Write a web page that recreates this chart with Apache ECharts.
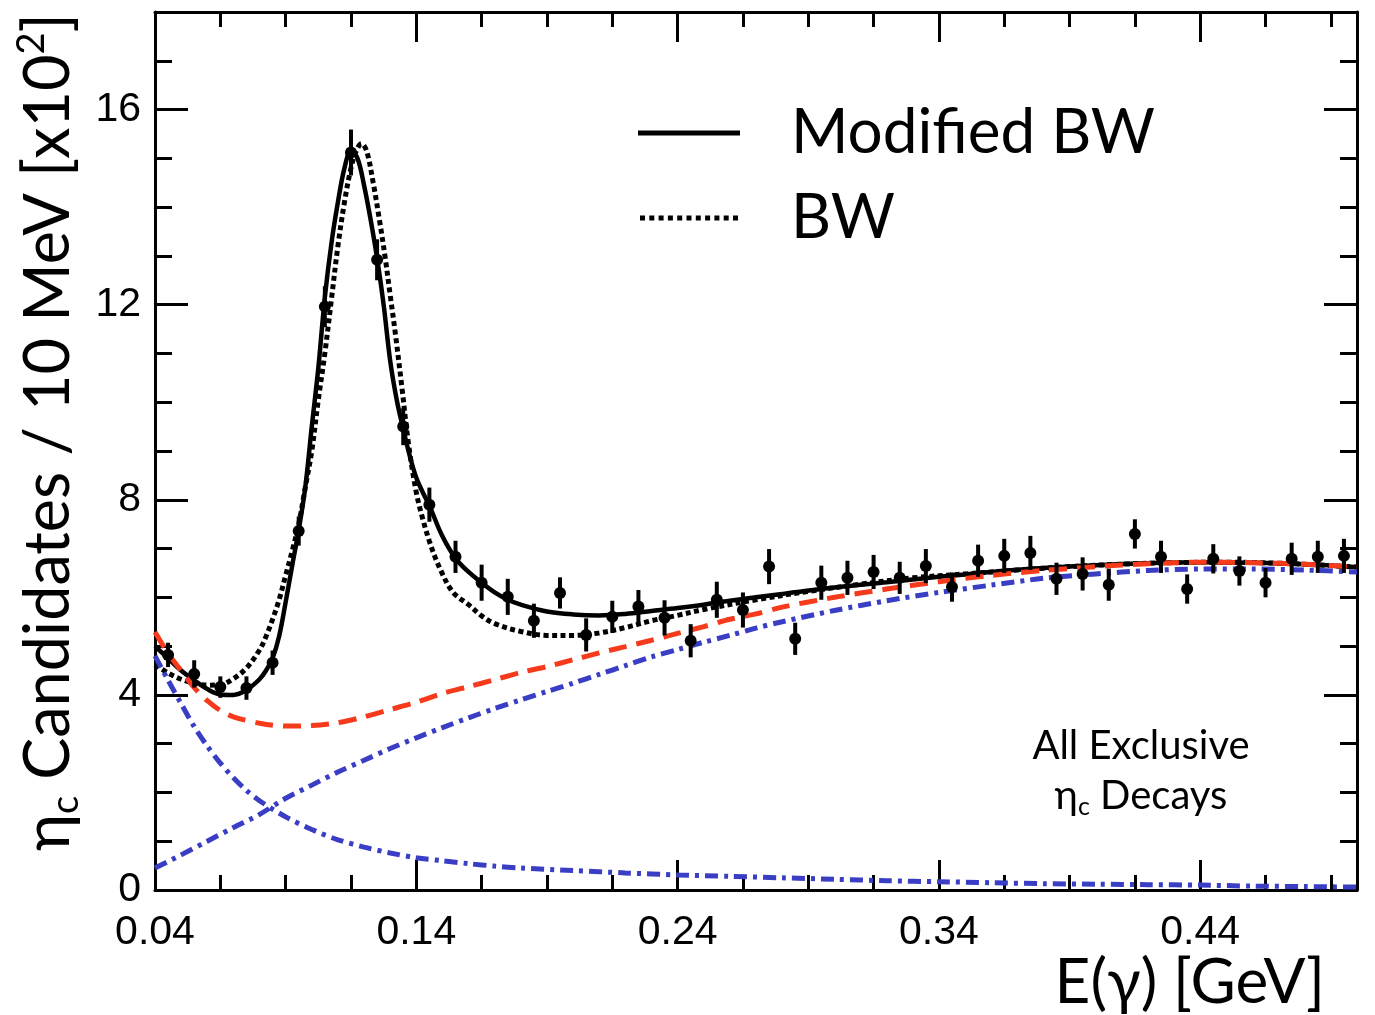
<!DOCTYPE html>
<html>
<head>
<meta charset="utf-8">
<script src="https://cdn.jsdelivr.net/npm/echarts@6/dist/echarts.min.js"></script>
<style>html,body{margin:0;padding:0;background:#fff}#c{width:1375px;height:1015px}</style>
</head>
<body>
<div id="c"></div>
<script>
// ---------- data ----------
const binCenters = [0.045,0.055,0.065,0.075,0.085,0.095,0.105,0.115,0.125,0.135,
  0.145,0.155,0.165,0.175,0.185,0.195,0.205,0.215,0.225,0.235,
  0.245,0.255,0.265,0.275,0.285,0.295,0.305,0.315,0.325,0.335,
  0.345,0.355,0.365,0.375,0.385,0.395,0.405,0.415,0.425,0.435,
  0.445,0.455,0.465,0.475,0.485,0.495];
const counts = [4.82,4.43,4.16,4.14,4.66,7.36,11.96,15.12,12.92,9.50,
  7.90,6.83,6.30,6.01,5.52,6.09,5.23,5.60,5.81,5.58,
  5.11,5.95,5.74,6.63,5.15,6.30,6.40,6.52,6.40,6.64,
  6.21,6.75,6.85,6.91,6.38,6.48,6.26,7.30,6.83,6.17,
  6.79,6.54,6.30,6.79,6.83,6.85];
const errors = [0.25,0.28,0.22,0.24,0.25,0.30,0.42,0.47,0.42,0.38,
  0.35,0.33,0.37,0.37,0.35,0.32,0.34,0.33,0.34,0.36,
  0.34,0.37,0.36,0.36,0.33,0.35,0.35,0.35,0.33,0.35,
  0.30,0.33,0.35,0.35,0.33,0.34,0.33,0.30,0.33,0.30,
  0.30,0.30,0.30,0.33,0.33,0.35];

const modifiedBW = [[0.040,5.00],[0.045,4.75],[0.050,4.50],[0.055,4.30],[0.060,4.12],[0.065,4.01],
  [0.070,4.00],[0.075,4.10],[0.080,4.32],[0.0825,4.50],[0.085,4.75],[0.0875,5.20],[0.090,5.90],
  [0.0925,6.65],[0.095,7.38],[0.0975,8.25],[0.100,9.50],[0.1025,10.70],[0.105,12.15],[0.1075,13.25],
  [0.110,14.10],[0.1125,14.80],[0.115,15.15],[0.1175,15.00],[0.120,14.45],[0.1225,13.75],
  [0.125,12.95],[0.1275,12.00],[0.130,10.85],[0.1325,10.05],[0.135,9.45],[0.1375,8.90],
  [0.140,8.45],[0.1425,8.15],[0.145,7.88],[0.150,7.25],[0.155,6.80],[0.160,6.52],[0.165,6.30],
  [0.170,6.10],[0.175,5.95],[0.180,5.85],[0.190,5.71],[0.200,5.65],[0.210,5.63],[0.220,5.66],
  [0.230,5.72],[0.240,5.78],[0.250,5.85],[0.260,5.93],[0.280,6.07],[0.300,6.20],[0.320,6.31],
  [0.340,6.42],[0.360,6.52],[0.380,6.60],[0.400,6.66],[0.420,6.70],[0.440,6.72],[0.460,6.71],
  [0.480,6.68],[0.500,6.62]];
const plainBW = [[0.040,4.62],[0.045,4.45],[0.050,4.32],[0.055,4.24],[0.060,4.20],[0.065,4.21],
  [0.070,4.33],[0.075,4.55],[0.080,4.92],[0.0825,5.20],[0.085,5.55],[0.0875,5.95],[0.090,6.45],
  [0.0925,6.95],[0.095,7.50],[0.0975,8.25],[0.100,9.00],[0.1025,10.05],[0.105,11.00],[0.1075,12.10],
  [0.110,13.20],[0.1125,14.10],[0.115,14.80],[0.117,15.15],[0.119,15.30],[0.121,15.15],
  [0.1235,14.50],[0.126,13.70],[0.128,13.00],[0.130,12.20],[0.132,11.40],[0.1345,10.30],
  [0.137,9.15],[0.140,8.15],[0.1425,7.60],[0.145,7.15],[0.1475,6.78],[0.150,6.48],[0.1525,6.22],
  [0.155,6.05],[0.160,5.85],[0.165,5.62],[0.170,5.46],[0.180,5.30],[0.190,5.22],[0.200,5.22],
  [0.210,5.27],[0.220,5.38],[0.230,5.52],[0.240,5.63],[0.250,5.75],[0.270,5.95],[0.290,6.12],
  [0.310,6.27],[0.330,6.40],[0.350,6.48],[0.370,6.56],[0.390,6.63],[0.410,6.68],[0.430,6.71],
  [0.450,6.72],[0.470,6.70],[0.490,6.65],[0.500,6.62]];
const totalBackground = [[0.040,5.29],[0.045,4.85],[0.050,4.50],[0.055,4.15],[0.060,3.88],[0.065,3.68],
  [0.070,3.55],[0.080,3.42],[0.090,3.36],[0.100,3.37],[0.110,3.43],[0.120,3.55],[0.130,3.70],
  [0.140,3.85],[0.150,4.03],[0.160,4.17],[0.170,4.31],[0.180,4.46],[0.190,4.58],[0.200,4.72],
  [0.210,4.86],[0.220,4.99],[0.230,5.12],[0.240,5.26],[0.250,5.40],[0.260,5.55],[0.270,5.66],
  [0.280,5.80],[0.300,6.00],[0.320,6.17],[0.340,6.32],[0.360,6.45],[0.380,6.55],[0.400,6.63],
  [0.420,6.69],[0.440,6.72],[0.460,6.71],[0.480,6.68],[0.500,6.62]];
const risingBackground = [[0.040,0.45],[0.050,0.72],[0.060,1.00],[0.070,1.28],[0.080,1.55],[0.090,1.88],
  [0.100,2.15],[0.110,2.42],[0.120,2.66],[0.130,2.90],[0.140,3.12],[0.150,3.33],[0.160,3.53],
  [0.170,3.72],[0.180,3.90],[0.190,4.07],[0.200,4.24],[0.210,4.42],[0.220,4.60],[0.230,4.78],
  [0.240,4.93],[0.250,5.08],[0.260,5.22],[0.270,5.37],[0.280,5.50],[0.300,5.73],[0.320,5.93],
  [0.340,6.10],[0.360,6.25],[0.380,6.39],[0.400,6.48],[0.420,6.55],[0.440,6.58],[0.460,6.58],
  [0.480,6.56],[0.500,6.52]];
const fallingBackground = [[0.040,4.80],[0.045,4.30],[0.050,3.82],[0.055,3.35],[0.060,2.95],[0.065,2.60],
  [0.070,2.30],[0.075,2.04],[0.080,1.83],[0.090,1.50],[0.100,1.24],[0.110,1.03],[0.120,0.88],
  [0.130,0.76],[0.140,0.66],[0.150,0.60],[0.160,0.54],[0.170,0.49],[0.180,0.45],[0.200,0.40],
  [0.220,0.35],[0.240,0.31],[0.260,0.28],[0.280,0.25],[0.300,0.22],[0.320,0.19],[0.340,0.17],
  [0.360,0.15],[0.380,0.13],[0.400,0.12],[0.420,0.11],[0.440,0.10],[0.460,0.08],[0.480,0.07],
  [0.500,0.06]];

const xMajorTicks = [0.04,0.14,0.24,0.34,0.44];
const xMinorTicks = [0.065,0.09,0.115,0.165,0.19,0.215,0.265,0.29,0.315,0.365,0.39,0.415,0.465,0.49];
const yMajorTicks = [0,4,8,12,16];
const yMinorTicks = [1,2,3,5,6,7,9,10,11,13,14,15,17];

// ---------- chart ----------
const chart = echarts.init(document.getElementById('c'));
const BLACK = '#000';
const RED = '#f63b1c';
const BLUE = '#3a3ec4';
const gridRect = {left:155, right:18, top:12, bottom:125};

// legend icons (shape only): a solid bar and a row of square dots
const ICON_SOLID = 'path://M0,0h102v5h-102z';
const ICON_DOTTED = 'path://M0,0h5v5h-5z M9.3,0h5v5h-5z M18.6,0h5v5h-5z M27.9,0h5v5h-5z M37.2,0h5v5h-5z M46.5,0h5v5h-5z M55.8,0h5v5h-5z M65.1,0h5v5h-5z M74.4,0h5v5h-5z M83.7,0h5v5h-5z M93,0h5v5h-5z';

function xAxisCfg(grid, pos, ticks, len, showLine, showLabel){
  return {
    type:'value', gridIndex:grid, position:pos, min:0.04, max:0.5,
    axisLine:{show:showLine, onZero:false, lineStyle:{color:BLACK, width:3}},
    axisTick:{show:true, inside:true, length:len, customValues:ticks, lineStyle:{color:BLACK, width:3}},
    axisLabel:{show:showLabel, customValues:ticks, formatter:v=>v.toFixed(2),
      fontFamily:'Liberation Sans', fontSize:41, color:BLACK, margin:22},
    splitLine:{show:false}
  };
}
function yAxisCfg(grid, pos, ticks, len, showLine, showLabel){
  return {
    type:'value', gridIndex:grid, position:pos, min:0, max:18,
    axisLine:{show:showLine, onZero:false, lineStyle:{color:BLACK, width:3}},
    axisTick:{show:true, inside:true, length:len, customValues:ticks, lineStyle:{color:BLACK, width:3}},
    axisLabel:{show:showLabel, customValues:ticks,
      fontFamily:'Liberation Sans', fontSize:41, color:BLACK, margin:14},
    splitLine:{show:false}
  };
}

const yLeft = yAxisCfg(0,'left',yMajorTicks,33,true,true);
yLeft.name = '{a|η}{s|c}{a| Candidates / 10 MeV [x10}{p|2}{a|]}';
yLeft.nameLocation = 'middle';
yLeft.nameGap = 64;
yLeft.nameRotate = 90;
yLeft.nameTextStyle = {
  color:BLACK, padding:[0,0,0,38],
  rich:{
    a:{fontFamily:'Lato', fontSize:63, lineHeight:72, color:BLACK},
    s:{fontFamily:'Lato', fontSize:38, lineHeight:38, verticalAlign:'bottom', color:BLACK},
    p:{fontFamily:'Lato', fontSize:38, lineHeight:38, verticalAlign:'top', color:BLACK}
  }
};

const option = {
  backgroundColor:'#fff',
  animation:false,
  grid:[Object.assign({}, gridRect), Object.assign({}, gridRect)],
  xAxis:[
    xAxisCfg(0,'bottom',xMajorTicks,30,true,true),
    xAxisCfg(0,'top',xMajorTicks,30,true,false),
    xAxisCfg(1,'bottom',xMinorTicks,15,false,false),
    xAxisCfg(1,'top',xMinorTicks,15,false,false)
  ],
  yAxis:[
    yLeft,
    yAxisCfg(0,'right',yMajorTicks,33,true,false),
    yAxisCfg(1,'left',yMinorTicks,17,false,false),
    yAxisCfg(1,'right',yMinorTicks,17,false,false)
  ],
  legend:{
    data:[{name:'Modified BW', icon:ICON_SOLID}, {name:'BW', icon:ICON_DOTTED}],
    orient:'vertical', left:638, top:98, padding:0,
    itemWidth:102, itemHeight:5, itemGap:15,
    selectedMode:false,
    itemStyle:{color:BLACK, borderWidth:0},
    textStyle:{fontFamily:'Lato', fontSize:62, lineHeight:70, color:BLACK, padding:[0,0,0,46]}
  },
  graphic:[
    {type:'text', x:1141, y:746, style:{text:'All Exclusive', fontFamily:'Lato', fontSize:40, fill:BLACK, align:'center', verticalAlign:'middle'}},
    {type:'text', x:1141, y:796, style:{
      text:'{a|η}{s|c}{a| Decays}', align:'center', verticalAlign:'middle',
      rich:{
        a:{fontFamily:'Lato', fontSize:40, lineHeight:46, fill:BLACK},
        s:{fontFamily:'Lato', fontSize:25, lineHeight:27, verticalAlign:'bottom', fill:BLACK}
      }}},
    {type:'text', x:1325, y:983, style:{text:'E(γ) [GeV]', fontFamily:'Lato', fontSize:62, fill:BLACK, align:'right', verticalAlign:'middle'}}
  ],
  series:[
    {name:'Modified BW', type:'line', data:modifiedBW, xAxisIndex:0, yAxisIndex:0,
      showSymbol:false, symbol:'none', smooth:0.35,
      lineStyle:{color:BLACK, width:4.5, type:'solid'}, itemStyle:{color:BLACK}, z:3},
    {name:'BW', type:'line', data:plainBW, xAxisIndex:0, yAxisIndex:0,
      showSymbol:false, symbol:'none', smooth:0.35,
      lineStyle:{color:BLACK, width:5, type:[5,3.5]}, itemStyle:{color:BLACK}, z:3},
    {name:'Rising background', type:'line', data:risingBackground, xAxisIndex:0, yAxisIndex:0,
      showSymbol:false, symbol:'none', smooth:0.3,
      lineStyle:{color:BLUE, width:5, type:[13,6,4,6]}, z:4},
    {name:'Falling background', type:'line', data:fallingBackground, xAxisIndex:0, yAxisIndex:0,
      showSymbol:false, symbol:'none', smooth:0.3,
      lineStyle:{color:BLUE, width:5, type:[13,6,4,6]}, z:4},
    {name:'Total background', type:'line', data:totalBackground, xAxisIndex:0, yAxisIndex:0,
      showSymbol:false, symbol:'none', smooth:0.3,
      lineStyle:{color:RED, width:5, type:[18,10]}, z:5},
    {name:'Data', type:'custom', xAxisIndex:0, yAxisIndex:0, z:6,
      data:binCenters.map((x,i)=>[x, counts[i], errors[i]]),
      renderItem:function(params, api){
        const x = api.value(0), y = api.value(1), e = api.value(2);
        const top = api.coord([x, y+e]);
        const bot = api.coord([x, y-e]);
        const c = api.coord([x, y]);
        return {type:'group', children:[
          {type:'line', shape:{x1:top[0], y1:top[1], x2:bot[0], y2:bot[1]}, style:{stroke:BLACK, lineWidth:4}},
          {type:'circle', shape:{cx:c[0], cy:c[1], r:6}, style:{fill:BLACK}}
        ]};
      }
    }
  ]
};
chart.setOption(option);
</script>
</body>
</html>
